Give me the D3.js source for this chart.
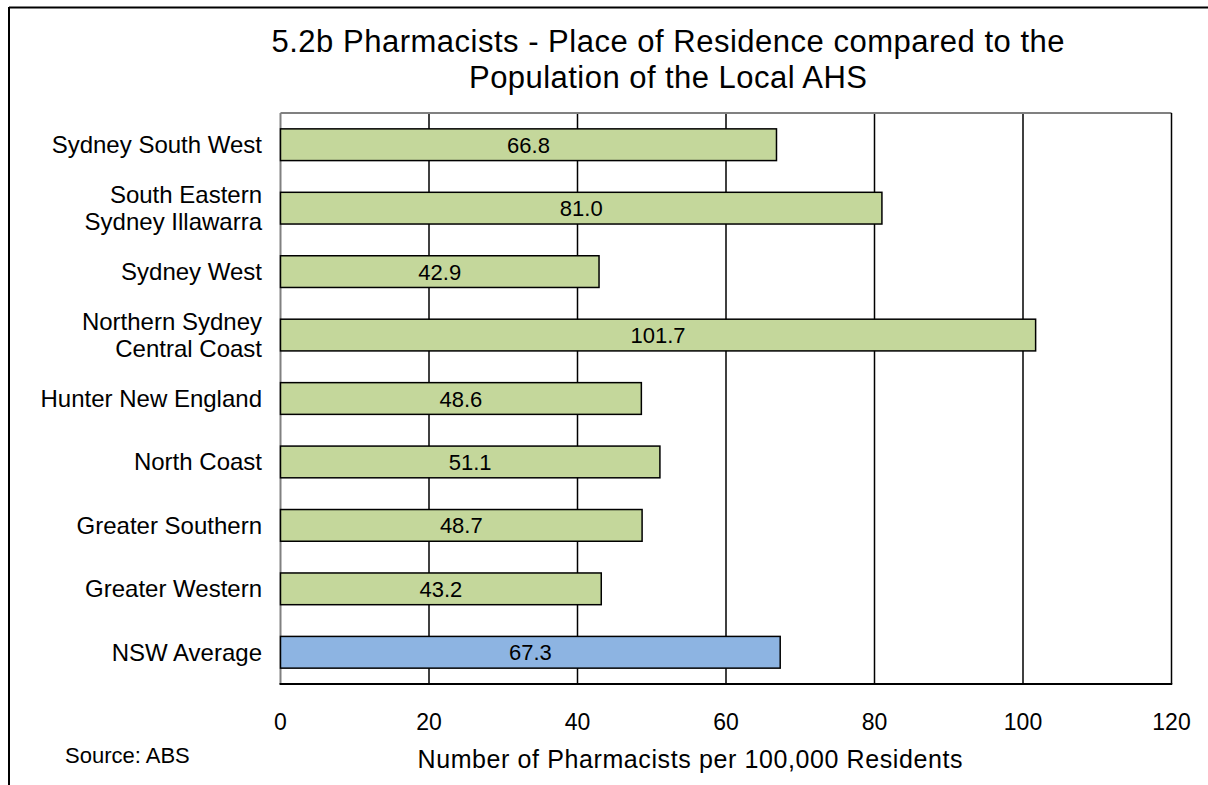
<!DOCTYPE html>
<html>
<head>
<meta charset="utf-8">
<script src="https://cdn.jsdelivr.net/npm/d3@7"></script>
<style>
  html, body { margin: 0; padding: 0; background: #fff; }
  svg { display: block; font-family: "Liberation Sans", Arial, sans-serif; }
</style>
</head>
<body>
<svg id="chart" width="1208" height="785"></svg>
<script>
const categories = [
  ["Sydney South West"],
  ["South Eastern", "Sydney Illawarra"],
  ["Sydney West"],
  ["Northern Sydney", "Central Coast"],
  ["Hunter New England"],
  ["North Coast"],
  ["Greater Southern"],
  ["Greater Western"],
  ["NSW Average"]
];
const values = [66.8, 81.0, 42.9, 101.7, 48.6, 51.1, 48.7, 43.2, 67.3];
const barColors = ["#c4d79b", "#c4d79b", "#c4d79b", "#c4d79b", "#c4d79b", "#c4d79b", "#c4d79b", "#c4d79b", "#8db4e2"];
const tickValues = [0, 20, 40, 60, 80, 100, 120];
const titleLines = ["5.2b Pharmacists - Place of Residence compared to the", "Population of the Local AHS"];
const xAxisTitle = "Number of Pharmacists per 100,000 Residents";
const sourceText = "Source: ABS";

const svg = d3.select("#chart");
const plot = { left: 280.5, right: 1171.5, top: 113, bottom: 684 };

// outer frame (top + left)
svg.append("line").attr("x1", 9).attr("x2", 1208).attr("y1", 7.5).attr("y2", 7.5)
  .attr("stroke", "#000").attr("stroke-width", 2);
svg.append("line").attr("x1", 9).attr("x2", 9).attr("y1", 7).attr("y2", 785)
  .attr("stroke", "#000").attr("stroke-width", 2);

const ids = categories.map((d, i) => i);
const x = d3.scaleLinear().domain([0, 120]).range([plot.left, plot.right]);
const y = d3.scaleBand().domain(ids).range([plot.top, plot.bottom]).paddingInner(0.5).paddingOuter(0.25);

// gridlines
svg.append("g").selectAll("line").data(tickValues.filter(t => t > 0 && t < 120)).join("line")
  .attr("x1", d => x(d)).attr("x2", d => x(d))
  .attr("y1", plot.top).attr("y2", plot.bottom)
  .attr("stroke", "#000").attr("stroke-width", 1.5);

// plot border
svg.append("line").attr("x1", plot.left).attr("x2", plot.right).attr("y1", plot.top).attr("y2", plot.top)
  .attr("stroke", "#808080").attr("stroke-width", 2);
svg.append("line").attr("x1", plot.left).attr("x2", plot.left).attr("y1", plot.top).attr("y2", plot.bottom)
  .attr("stroke", "#808080").attr("stroke-width", 2);
svg.append("line").attr("x1", plot.right).attr("x2", plot.right).attr("y1", plot.top).attr("y2", plot.bottom)
  .attr("stroke", "#000").attr("stroke-width", 1.5);

// bars
svg.append("g").selectAll("rect").data(values).join("rect")
  .attr("x", x(0))
  .attr("y", (d, i) => y(i))
  .attr("width", d => x(d) - x(0))
  .attr("height", y.bandwidth())
  .attr("fill", (d, i) => barColors[i])
  .attr("stroke", "#000").attr("stroke-width", 1.5);

// bottom axis line
svg.append("line").attr("x1", plot.left - 1).attr("x2", plot.right + 0.75).attr("y1", plot.bottom).attr("y2", plot.bottom)
  .attr("stroke", "#000").attr("stroke-width", 2);

// value labels
svg.append("g").selectAll("text").data(values).join("text")
  .attr("x", d => (x(0) + x(d)) / 2)
  .attr("y", (d, i) => y(i) + y.bandwidth() / 2 + 8)
  .attr("text-anchor", "middle")
  .attr("font-size", 22)
  .attr("fill", "#000")
  .text(d => d.toFixed(1));

// category labels
const catG = svg.append("g");
categories.forEach((lines, i) => {
  const cy = y(i) + y.bandwidth() / 2;
  const t = catG.append("text")
    .attr("text-anchor", "end")
    .attr("font-size", 24)
    .attr("fill", "#000");
  lines.forEach((ln, j) => {
    const off = lines.length === 1 ? 8.5 : (j === 0 ? -5.5 : 22);
    t.append("tspan").attr("x", 262).attr("y", cy + off).text(ln);
  });
});

// x tick labels
svg.append("g").selectAll("text").data(tickValues).join("text")
  .attr("x", d => x(d))
  .attr("y", 729.5)
  .attr("text-anchor", "middle")
  .attr("font-size", 23)
  .attr("fill", "#000")
  .text(d => d);

// axis title
svg.append("text").attr("x", 690).attr("y", 768).attr("text-anchor", "middle")
  .attr("font-size", 25).attr("fill", "#000")
  .attr("textLength", 545).attr("lengthAdjust", "spacing")
  .text(xAxisTitle);

// source
svg.append("text").attr("x", 65).attr("y", 762.5)
  .attr("font-size", 22).attr("fill", "#000").text(sourceText);

// title
const titleWidths = [793, 398];
svg.append("g").selectAll("text").data(titleLines).join("text")
  .attr("x", 668).attr("y", (d, i) => 52 + i * 36)
  .attr("text-anchor", "middle")
  .attr("font-size", 31)
  .attr("fill", "#000")
  .attr("textLength", (d, i) => titleWidths[i])
  .attr("lengthAdjust", "spacing")
  .text(d => d);
</script>
</body>
</html>
